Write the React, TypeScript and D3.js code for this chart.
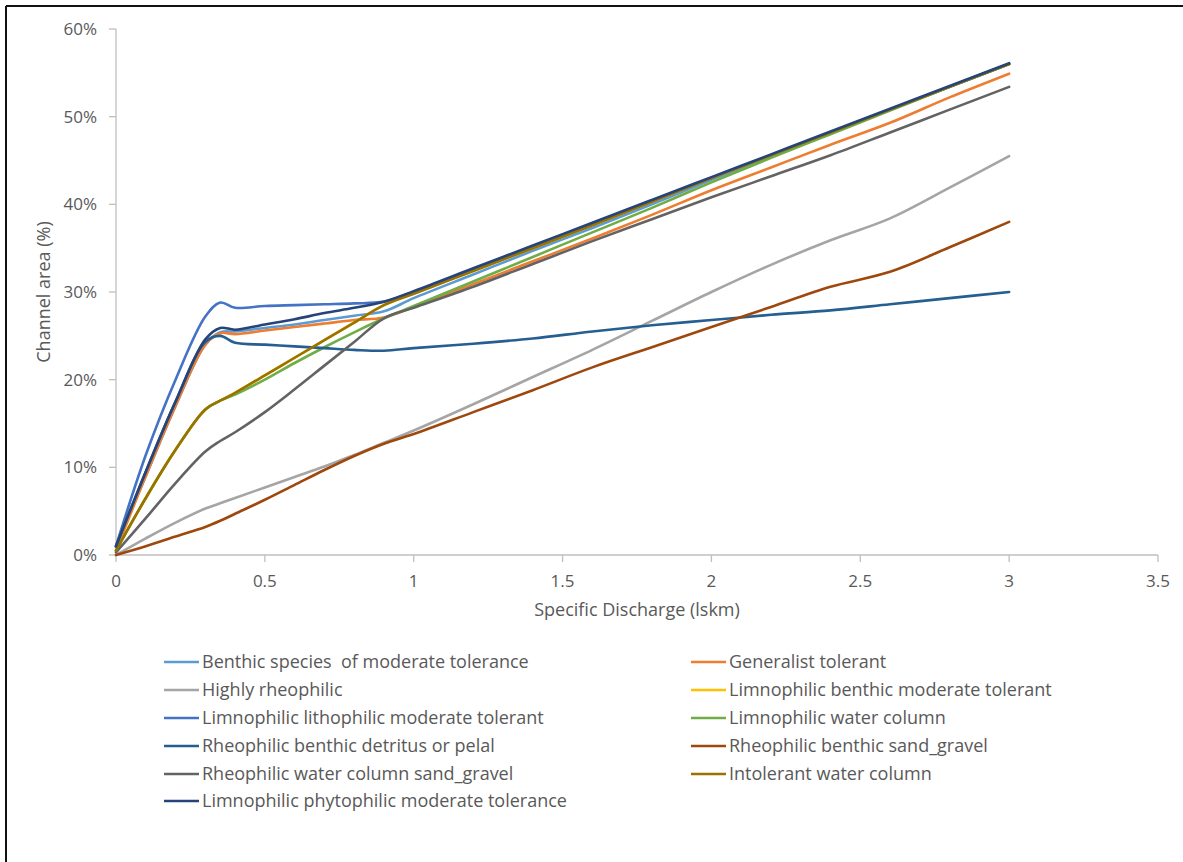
import React from "react";
import * as d3 from "d3";

const xValues = [0, 0.1, 0.2, 0.3, 0.35, 0.4, 0.5, 0.6, 0.7, 0.8, 0.9, 1.0, 1.2, 1.4, 1.6, 1.8, 2.0, 2.2, 2.4, 2.6, 2.8, 3.0];

const benthicModerate = [1.0, 9.0, 17.0, 24.0, 25.4, 25.5, 25.9, 26.3, 26.8, 27.3, 27.8, 29.3, 32.0, 34.7, 37.3, 40.0, 42.8, 45.5, 48.1, 50.8, 53.4, 56.0];
const generalistTolerant = [0.5, 9.0, 17.0, 24.0, 25.3, 25.2, 25.6, 26.0, 26.4, 26.8, 27.1, 28.3, 30.9, 33.5, 36.1, 38.8, 41.6, 44.2, 46.8, 49.3, 52.2, 54.9];
const highlyRheophilic = [0, 1.9, 3.7, 5.3, 5.9, 6.5, 7.7, 8.9, 10.1, 11.4, 12.8, 14.2, 17.2, 20.3, 23.4, 26.7, 30.0, 33.1, 35.9, 38.4, 41.9, 45.5];
const limnoBenthic = [0.5, 6.5, 12.0, 16.6, 17.6, 18.5, 20.5, 22.5, 24.5, 26.5, 28.5, 29.8, 32.4, 35.0, 37.6, 40.3, 43.0, 45.6, 48.2, 50.8, 53.4, 56.0];
const limnoLitho = [1.0, 11.4, 20.0, 27.2, 28.8, 28.2, 28.4, 28.5, 28.6, 28.7, 28.9, 30.0, 32.6, 35.2, 37.8, 40.4, 43.0, 45.6, 48.2, 50.8, 53.4, 56.0];
const limnoWaterColumn = [0.5, 6.5, 12.0, 16.6, 17.6, 18.3, 20.0, 21.9, 23.7, 25.4, 27.0, 28.4, 31.2, 34.0, 36.8, 39.6, 42.5, 45.3, 48.0, 50.7, 53.4, 56.0];
const rheoDetritus = [1.0, 9.5, 17.5, 24.3, 25.0, 24.2, 24.0, 23.8, 23.6, 23.4, 23.3, 23.6, 24.1, 24.7, 25.5, 26.2, 26.8, 27.4, 27.9, 28.6, 29.3, 30.0];
const rheoSandGravel = [0, 1.0, 2.1, 3.2, 3.9, 4.7, 6.3, 8.0, 9.7, 11.3, 12.7, 13.8, 16.3, 18.8, 21.4, 23.7, 26.0, 28.3, 30.6, 32.3, 35.1, 38.0];
const rheoWaterColumn = [0.3, 4.2, 8.2, 11.8, 13.0, 14.0, 16.3, 18.9, 21.6, 24.3, 27.0, 28.2, 30.6, 33.2, 35.8, 38.3, 40.8, 43.2, 45.6, 48.2, 50.8, 53.4];
const intolerantWaterColumn = [0.5, 6.5, 12.0, 16.6, 17.6, 18.5, 20.5, 22.5, 24.5, 26.5, 28.5, 29.8, 32.4, 35.0, 37.6, 40.3, 43.0, 45.6, 48.2, 50.8, 53.4, 56.0];
const limnoPhyto = [1.0, 9.5, 17.5, 24.6, 25.9, 25.7, 26.3, 26.9, 27.6, 28.2, 28.9, 30.1, 32.7, 35.3, 37.9, 40.5, 43.1, 45.7, 48.3, 50.9, 53.5, 56.1];

const seriesNames = [
  "Benthic species  of moderate tolerance",
  "Generalist tolerant",
  "Highly rheophilic",
  "Limnophilic benthic moderate tolerant",
  "Limnophilic lithophilic moderate tolerant",
  "Limnophilic water column",
  "Rheophilic benthic detritus or pelal",
  "Rheophilic benthic sand_gravel",
  "Rheophilic water column sand_gravel",
  "Intolerant water column",
  "Limnophilic phytophilic moderate tolerance",
];
const seriesValues = [
  benthicModerate, generalistTolerant, highlyRheophilic, limnoBenthic, limnoLitho,
  limnoWaterColumn, rheoDetritus, rheoSandGravel, rheoWaterColumn, intolerantWaterColumn, limnoPhyto,
];
const seriesColors = [
  "#5B9BD5", "#ED7D31", "#A5A5A5", "#FFC000", "#4472C4", "#70AD47",
  "#255E91", "#9E480E", "#636363", "#997300", "#264478",
];

const xTicks = [0, 0.5, 1, 1.5, 2, 2.5, 3, 3.5];
const yTicks = [0, 10, 20, 30, 40, 50, 60];

const W = 1183;
const H = 862;
const FONT = "'Open Sans', 'Noto Sans', sans-serif";
const TXT = "#595959";
const AXIS = "#BFBFBF";

export default function App() {
  const x = d3.scaleLinear().domain([0, 3.5]).range([116, 1158]);
  const y = d3.scaleLinear().domain([0, 60]).range([555, 29]);
  const line = d3
    .line<[number, number]>()
    .x((d) => x(d[0]))
    .y((d) => y(d[1]))
    .curve(d3.curveCatmullRom.alpha(0.5));

  const legendRows = [662, 690, 718, 746, 774, 801];
  const legendCols = [164, 691];

  return (
    <svg
      width={W}
      height={H}
      style={{ position: "absolute", left: 0, top: 0, background: "#fff" }}
      fontFamily={FONT}
    >
      <rect x={0} y={0} width={W} height={H} fill="#fff" />
      {/* frame */}
      <line x1={6} y1={6} x2={W} y2={6} stroke="#111" strokeWidth={2} />
      <line x1={6} y1={6} x2={6} y2={H} stroke="#111" strokeWidth={2} />

      {/* axes */}
      <line x1={x(0)} y1={y(60)} x2={x(0)} y2={y(0)} stroke={AXIS} strokeWidth={1.3} />
      <line x1={x(0)} y1={y(0)} x2={x(3.5)} y2={y(0)} stroke={AXIS} strokeWidth={1.3} />
      {yTicks.map((t) => (
        <g key={"y" + t}>
          <line x1={x(0) - 7} x2={x(0)} y1={y(t)} y2={y(t)} stroke={AXIS} strokeWidth={1.3} />
          <text x={97} y={y(t)} dy="0.35em" textAnchor="end" fontSize={17} fill={TXT}>
            {t + "%"}
          </text>
        </g>
      ))}
      {xTicks.map((t) => (
        <g key={"x" + t}>
          <line x1={x(t)} x2={x(t)} y1={y(0)} y2={y(0) + 7} stroke={AXIS} strokeWidth={1.3} />
          <text x={x(t)} y={581} dy="0.35em" textAnchor="middle" fontSize={17} fill={TXT}>
            {String(t)}
          </text>
        </g>
      ))}
      <text x={637} y={610} dy="0.35em" textAnchor="middle" fontSize={18} fill={TXT}>
        Specific Discharge (lskm)
      </text>
      <text
        transform="translate(44,292) rotate(-90)"
        dy="0.35em"
        textAnchor="middle"
        fontSize={18}
        fill={TXT}
      >
        Channel area (%)
      </text>

      {/* lines */}
      {seriesValues.map((vals, i) => (
        <path
          key={"s" + i}
          d={line(vals.map((v, j) => [xValues[j], v] as [number, number])) || ""}
          fill="none"
          stroke={seriesColors[i]}
          strokeWidth={2.6}
          strokeLinejoin="round"
          strokeLinecap="round"
        />
      ))}

      {/* legend */}
      {seriesNames.map((name, i) => {
        const col = i % 2;
        const row = Math.floor(i / 2);
        const lx = legendCols[col];
        const ly = legendRows[row];
        return (
          <g key={"l" + i}>
            <line x1={lx} x2={lx + 35} y1={ly} y2={ly} stroke={seriesColors[i]} strokeWidth={2.6} />
            <text
              x={lx + 38}
              y={ly}
              dy="0.35em"
              fontSize={18}
              fill={TXT}
              style={{ whiteSpace: "pre" }}
            >
              {name}
            </text>
          </g>
        );
      })}
    </svg>
  );
}
